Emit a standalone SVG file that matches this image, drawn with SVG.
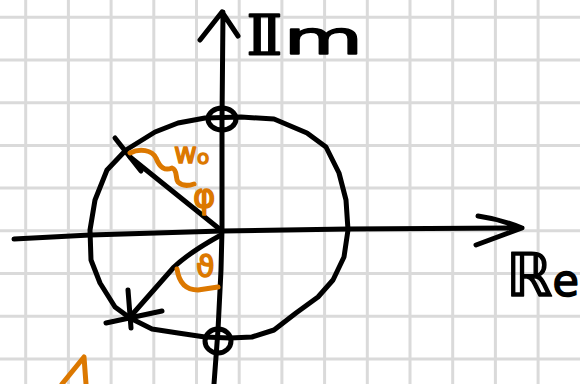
<svg xmlns="http://www.w3.org/2000/svg" width="580" height="384" viewBox="0 0 580 384">
<style>
.grid{stroke:#dadada;stroke-width:3;fill:none}
.ink{stroke:#000;stroke-width:5;fill:none;stroke-linecap:round;stroke-linejoin:round}
.or{stroke:#dc7800;stroke-width:5;fill:none;stroke-linecap:round;stroke-linejoin:round}
.lbl{font-family:"DejaVu Sans","Noto Sans",sans-serif;fill:#000;stroke:#000;stroke-width:1.5;stroke-linejoin:round}
.olbl{font-family:"DejaVu Sans","Noto Sans",sans-serif;fill:#dc7800;stroke:#dc7800;stroke-width:1.5;stroke-linejoin:round}
</style>
<rect width="580" height="384" fill="#fff"/>
<g id="grid">
<path class="grid" d="M25.7,0V384M68.4,0V384M111.1,0V384M153.8,0V384M196.5,0V384M239.2,0V384M281.9,0V384M324.6,0V384M367.3,0V384M410,0V384M452.7,0V384M495.4,0V384M538.1,0V384"/>
<path class="grid" d="M0,17.3H580M0,60H580M0,102.7H580M0,145.4H580M0,188.1H580M0,230.8H580M0,273.5H580M0,316.2H580M0,358.9H580"/>
</g>
<g id="connectors">
<path id="re-axis" class="ink" d="M14,239 L90,235 L222,231 L348,229 L522,228 M478,216 Q500,219 522,228 L476,245"/>
<path id="im-axis" class="ink" d="M214,384 L218,330 L221,270 L222,230 L222,120 L223,12 M200,40 L222,12 L238,36"/>
<path id="radius-upper" class="ink" d="M222,231 L130,157"/>
<path id="radius-lower" class="ink" d="M221,235 Q190,252 174,267 L130,317"/>
</g>
<g id="unit-circle">
<path class="ink" d="M205,118 L241,117 L274,119 L307,133 L326,147 L339,173 L346,200 L348,230 L344,257 L333,280 L318,297 L296,313 L274,330 L252,337 L230,338 L205,337 L178,333 L152,329 L130,318 L115,307 L100,283 L91,260 L90,230 L95,200 L107,170 L126,150 L155,132 L178,123 Z"/>
</g>
<g id="zero-top"><ellipse class="ink" cx="222" cy="119" rx="14" ry="11"/></g>
<g id="zero-bottom"><ellipse class="ink" cx="218" cy="341" rx="13" ry="12"/></g>
<g id="pole-upper"><path class="ink" d="M115,138 L141,171"/></g>
<g id="pole-lower"><path class="ink" d="M128,290 L131,328 M106,323 L162,311"/></g>
<g id="label-im"><text class="lbl" x="245" y="54" font-size="56" textLength="118" lengthAdjust="spacingAndGlyphs">𝕀<tspan font-size="46">m</tspan></text></g>
<g id="label-re"><text class="lbl" x="506" y="296" font-size="60" textLength="73" lengthAdjust="spacingAndGlyphs">ℝ<tspan font-size="44">e</tspan></text></g>
<g id="omega-label">
<path class="or" d="M130,153 C140,148 152,150 156,158 C160,168 165,171 172,168 C178,170 175,178 178,182 C182,186 188,186 194,184"/>
<text class="olbl" x="174" y="163" font-size="28">w<tspan font-size="20" dy="1">o</tspan></text>
<text class="olbl" x="193" y="208" font-size="34">φ</text>
</g>
<g id="theta-label">
<path class="or" d="M177,269 Q180,290 198,290 L218,287"/>
<text class="olbl" x="196" y="277" font-size="30">ϑ</text>
</g>
<path class="or" d="M62,384 L84,357 L86,384"/>
</svg>
